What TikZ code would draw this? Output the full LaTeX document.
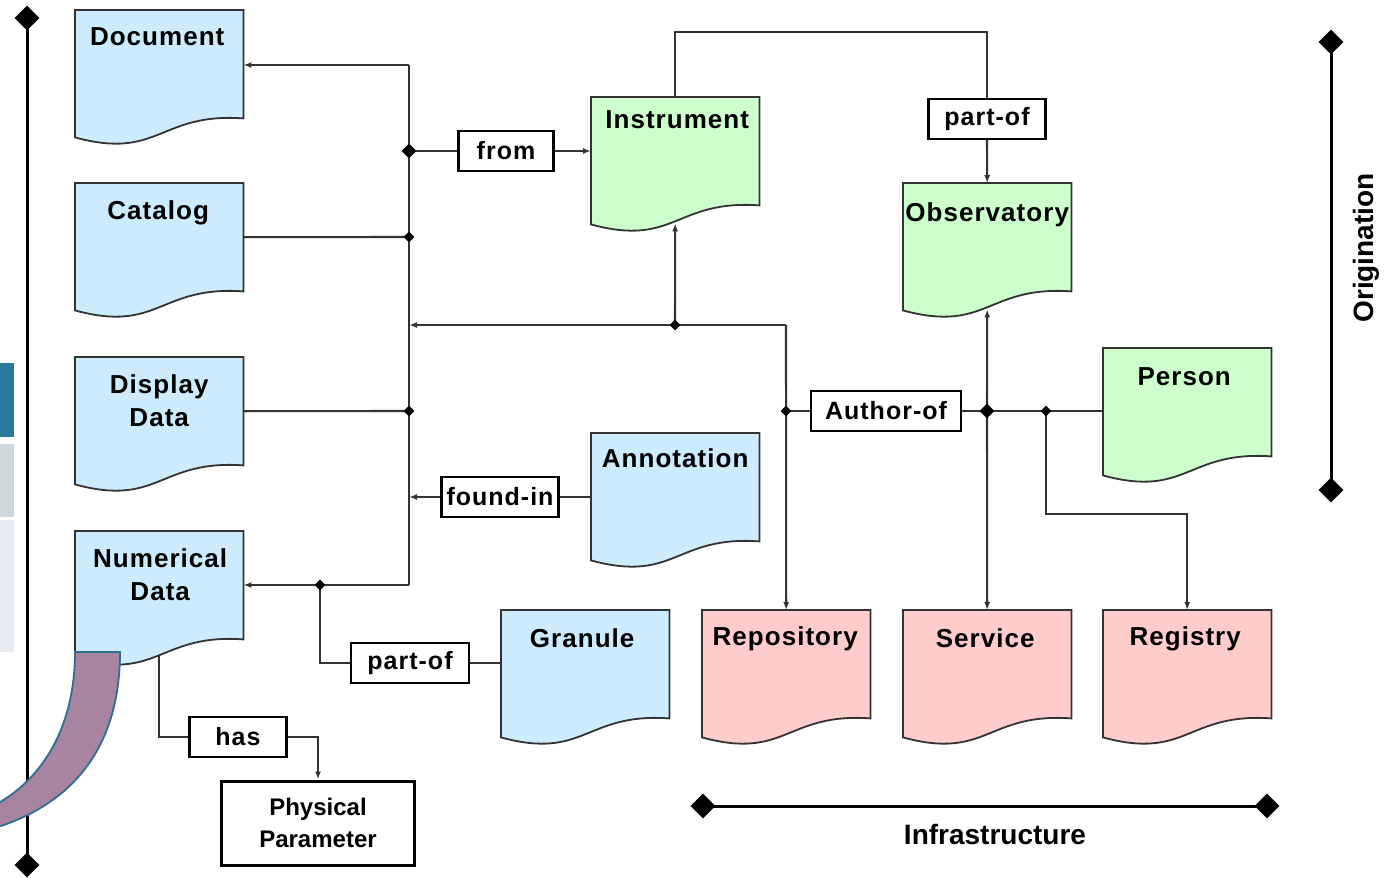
\documentclass[tikz,border=0pt]{standalone}
\usepackage{fontspec}
\setmainfont{Liberation Sans}
\newfontfamily\spacedfont{Liberation Sans}[LetterSpace=4]
\usetikzlibrary{shapes.geometric,arrows.meta,calc}

\definecolor{docblue}{HTML}{CCEBFD}
\definecolor{docgreen}{HTML}{CCFFCC}
\definecolor{docred}{HTML}{FFCCCC}
\definecolor{edge}{HTML}{333333}
\definecolor{linkgray}{HTML}{333333}
\definecolor{bandpurple}{HTML}{A884A0}
\definecolor{bandedge}{HTML}{2E6E8E}
\definecolor{tabblue}{HTML}{2A7AA0}
\definecolor{tabgray}{HTML}{CDD7E0}
\definecolor{tablight}{HTML}{E8ECF0}

\pgfdeclarelayer{background}
\pgfdeclarelayer{front}
\pgfsetlayers{background,main,front}

\begin{document}
\begin{tikzpicture}[x=1pt,y=-1pt,
  docbody/.style={rectangle,inner sep=0pt,minimum width=168pt,minimum height=108pt,anchor=north west},
  title/.style={anchor=north,inner sep=0pt,align=center,font=\spacedfont\bfseries\fontsize{26}{33}\selectfont},
  relbox/.style={draw=black,line width=2.2pt,fill=white,inner sep=0pt,minimum height=40pt,
                 font=\spacedfont\bfseries\fontsize{25}{30}\selectfont},
  outline/.style={draw=edge,line width=1.8pt},
  conn/.style={draw=linkgray,line width=2.1pt},
  pointed/.style={-{Latex[length=8pt,width=6pt]}},
  junc/.style={diamond,fill=black,inner sep=0pt,minimum size=11pt},
  bigjunc/.style={junc,minimum size=15pt},
  axisend/.style={diamond,fill=black,inner sep=0pt,minimum size=25pt},
  axis/.style={draw=black,line width=3pt},
  axislabel/.style={font=\bfseries\fontsize{28}{34}\selectfont,inner sep=0pt}
]
\useasboundingbox (0,0) rectangle (1393,878);
\clip (0,0) rectangle (1393,878);
\begin{pgfonlayer}{background}
  \fill[white] (0,0) rectangle (1393,878);
\end{pgfonlayer}

% side tabs
\fill[tabblue]  (0,363) rectangle (14,437);
\fill[tabgray]  (0,444) rectangle (14,517);
\fill[tablight] (0,520) rectangle (14,652);

% document bodies
\node[docbody] (document)    at (75,10)   {};
\node[docbody] (catalog)     at (75,183)  {};
\node[docbody] (display)     at (75,357)  {};
\node[docbody] (numerical)   at (75,531)  {};
\node[docbody] (instrument)  at (591,97)  {};
\node[docbody] (observatory) at (903,183) {};
\node[docbody] (person)      at (1103,348){};
\node[docbody] (annotation)  at (591,433) {};
\node[docbody] (granule)     at (501,610) {};
\node[docbody] (repository)  at (702,610) {};
\node[docbody] (service)     at (903,610) {};
\node[docbody] (registry)    at (1103,610){};

% document outlines with wavy bottom edge
\begin{pgfonlayer}{background}
\foreach \n/\c in {document/docblue,catalog/docblue,display/docblue,numerical/docblue,
                   annotation/docblue,granule/docblue,
                   instrument/docgreen,observatory/docgreen,person/docgreen,
                   repository/docred,service/docred,registry/docred}{
  \draw[outline,fill=\c] (\n.north west) -- (\n.north east) -- (\n.south east)
    .. controls ($(\n.south)+(0,-6)$) and ($(\n.south)+(0,42)$) .. ($(\n.south west)+(0,19)$) -- cycle;
}
\end{pgfonlayer}

% titles
\node[title] (document-t)    at ($(document.north)+(-2,17)$)    {Document};
\node[title] (catalog-t)     at ($(catalog.north)+(-1,17)$)     {Catalog};
\node[title] (display-t)     at ($(display.north)+(0,17)$)      {Display\\Data};
\node[title] (numerical-t)   at ($(numerical.north)+(1,17)$)    {Numerical\\Data};
\node[title] (instrument-t)  at ($(instrument.north)+(2,13)$)   {Instrument};
\node[title] (observatory-t) at ($(observatory.north)+(0,19)$)  {Observatory};
\node[title] (person-t)      at ($(person.north)+(-3,19)$)      {Person};
\node[title] (annotation-t)  at ($(annotation.north)+(0,15)$)   {Annotation};
\node[title] (granule-t)     at ($(granule.north)+(-3,18)$)     {Granule};
\node[title] (repository-t)  at ($(repository.north)+(-1,16)$)  {Repository};
\node[title] (service-t)     at ($(service.north)+(-2,18)$)     {Service};
\node[title] (registry-t)    at ($(registry.north)+(-2,16)$)    {Registry};

% relation labels
\node[relbox,minimum width=95pt]  (from)      at (506,151) {from};
\node[relbox,minimum width=117pt] (partoftop) at (987,119) {part-of};
\node[relbox,minimum width=150pt] (authorof)  at (886,411) {Author-of};
\node[relbox,minimum width=117pt] (foundin)   at (500,497) {found-in};
\node[relbox,minimum width=118pt] (partofbot) at (410,663) {part-of};
\node[relbox,minimum width=97pt]  (has)       at (238,737) {has};
\node[relbox,line width=3pt,minimum width=193pt,minimum height=84pt,align=center,
      font=\bfseries\fontsize{24}{32}\selectfont] (physical) at (318,823) {Physical\\Parameter};

% junctions
\begin{pgfonlayer}{front}
  \node[bigjunc] (jfrom) at (409,151) {};
  \node[junc]    (jcat)  at (409,237) {};
  \node[junc]    (jdisp) at (409,411) {};
  \node[junc]    (jgran) at (320,585) {};
  \node[junc]    (jinst) at (675,325) {};
  \node[junc]    (jauth) at (786,411) {};
  \node[bigjunc] (jsvc)  at (987,411) {};
  \node[junc]    (jreg)  at (1046,411) {};
\end{pgfonlayer}
\coordinate (bustop)  at (409,65);
\coordinate (busbot)  at (409,585);
\coordinate (rcorner) at (786,325);

% connectors
\draw[conn] (bustop) -- (busbot);
\draw[conn,pointed] (bustop) -- (bustop -| document.east);
\draw[conn,pointed] (busbot) -- (busbot -| numerical.east);
\draw[conn] (jfrom.center) -- (from.west);
\draw[conn,pointed] (from.east) -- (from.east -| instrument.west);
\draw[conn] (catalog.east) -- (jcat.center);
\draw[conn] (display.east) -- (jdisp.center);
\draw[conn,pointed] (rcorner) -- (rcorner -| bustop);
\draw[conn,pointed] (rcorner) -- (repository.north);
\draw[conn,pointed] (jinst.center) -- ($(instrument.south)+(0,18)$);
\draw[conn] (jauth.center) -- (authorof.west);
\draw[conn] (authorof.east) -- (jsvc.center) -- (jreg.center) -- (jreg -| person.west);
\draw[conn,pointed] (jsvc.center) -- ($(observatory.south)+(0,18)$);
\draw[conn,pointed] (jsvc.center) -- (service.north);
\draw[conn,pointed] (jreg.center) -- ++(0,103) -| (registry.north);
\draw[conn] (instrument.north) -- ++(0,-65) -| (partoftop.north);
\draw[conn,pointed] (partoftop.south) -- (observatory.north);
\draw[conn] (foundin.east -| annotation.west) -- (foundin.east);
\draw[conn,pointed] (foundin.west) -- (foundin.west -| bustop);
\draw[conn] (jgran.center) |- (partofbot.west);
\draw[conn] (partofbot.east) -- (partofbot.east -| granule.west);
\draw[conn] ($(numerical.south)+(0,17)$) |- (has.west);
\draw[conn,pointed] (has.east) -| (physical.north);

% axes
\node[axisend] (lefttop) at (27,18) {};
\node[axisend] (leftbot) at (27,865) {};
\draw[axis] (lefttop.center) -- (leftbot.center);
\node[axisend] (origtop) at (1331,42) {};
\node[axisend] (origbot) at (1331,490) {};
\draw[axis] (origtop.center) -- (origbot.center);
\node[axislabel,rotate=90] (origlabel) at (1366,248) {Origination};
\node[axisend] (infleft)  at (703,806) {};
\node[axisend] (infright) at (1267,806) {};
\draw[axis] (infleft.center) -- (infright.center);
\node[axislabel] (inflabel) at (995,834) {Infrastructure};

% curved band at the lower left
\filldraw[fill=bandpurple,draw=bandedge,line width=1.8pt]
  (75,652) -- (120,652) .. controls (120,750) and (70,810) .. (-20,832)
  -- (-20,812) .. controls (35,790) and (75,735) .. (75,652) -- cycle;
\end{tikzpicture}
\end{document}
